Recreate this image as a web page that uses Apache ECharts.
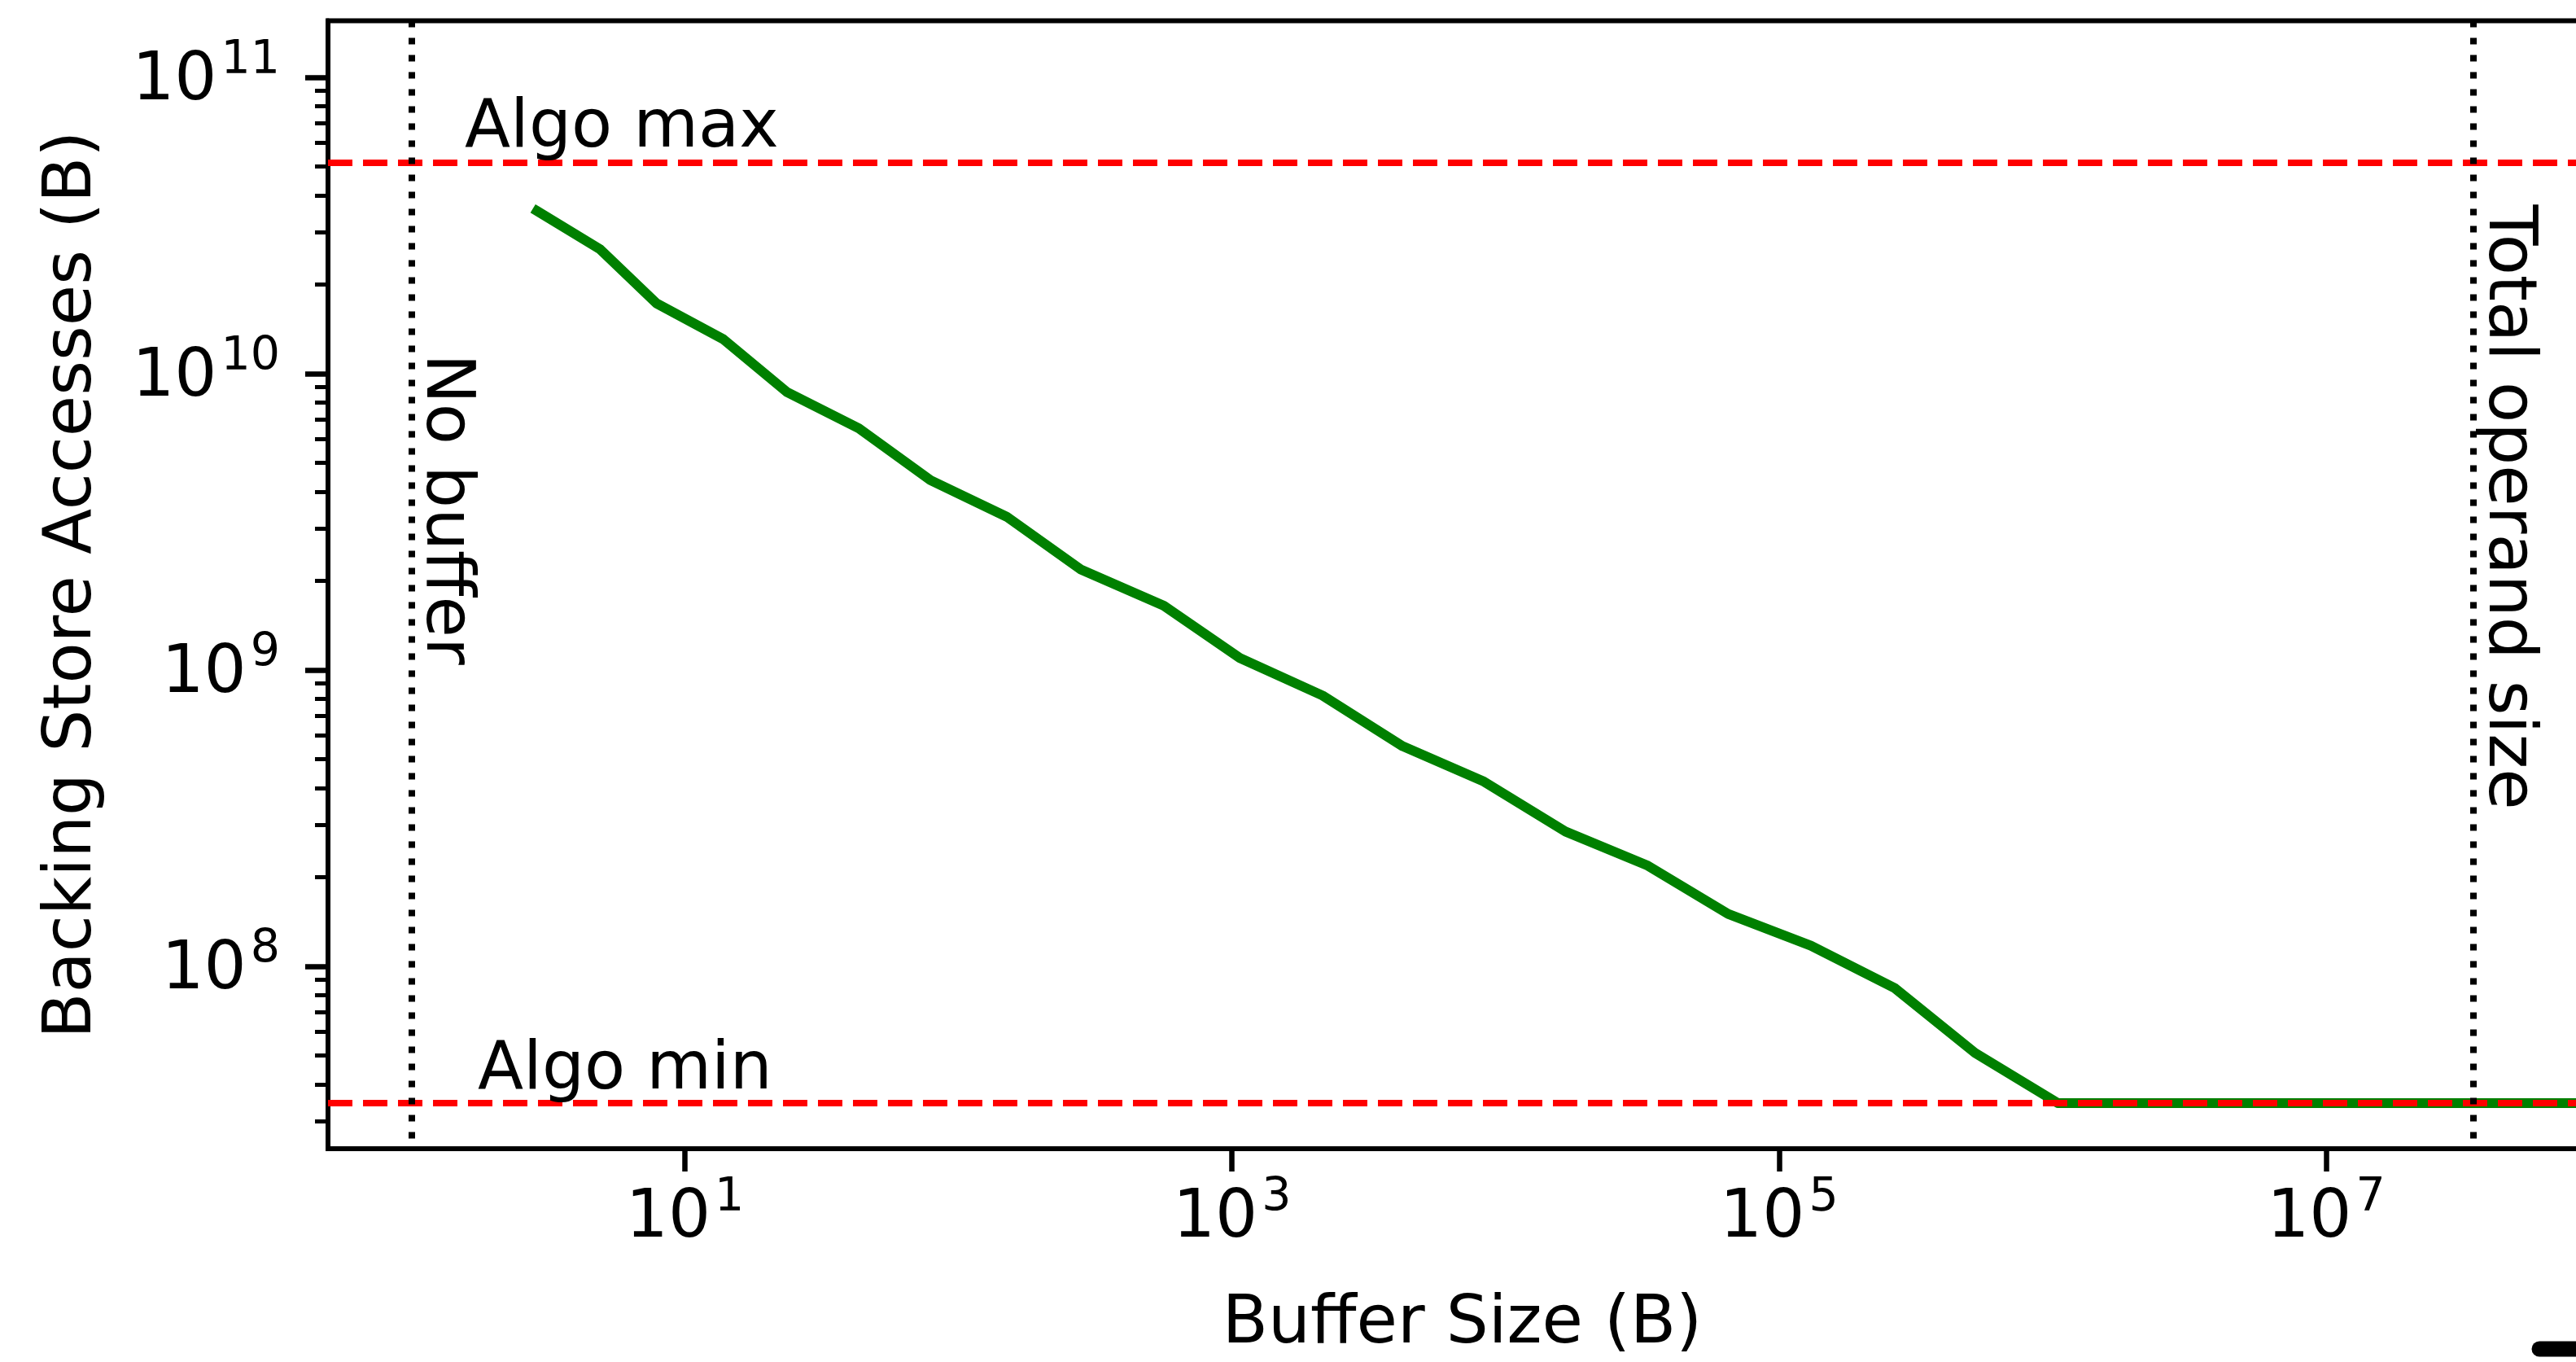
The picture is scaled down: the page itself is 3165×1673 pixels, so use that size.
<!DOCTYPE html>
<html><head><meta charset="utf-8">
<script src="https://cdn.jsdelivr.net/npm/echarts@6/dist/echarts.min.js"></script>
<style>html,body{margin:0;padding:0;background:#fff;overflow:hidden}#c{width:3165px;height:1673px}</style>
</head><body><div id="c"></div>
<script>
// ---- data ----
const bufferSizes = [2.88, 4.89, 7.87, 13.8, 23.6, 43.2, 79.0, 150, 281, 563, 1068, 2143, 4204, 8337,
  16550, 32830, 65130, 130700, 265300, 520800, 1044000, 2097000, 4194000, 8389000, 16780000,
  33550000, 67110000, 134200000];
const backingAccesses = [3.54e10, 2.63e10, 1.727e10, 1.307e10, 8.66e9, 6.54e9, 4.37e9, 3.29e9, 2.18e9,
  1.648e9, 1.098e9, 8.20e8, 5.53e8, 4.20e8, 2.85e8, 2.195e8, 1.502e8, 1.174e8, 8.43e7, 5.10e7,
  3.456e7, 3.456e7, 3.456e7, 3.456e7, 3.456e7, 3.456e7, 3.456e7, 3.456e7];
const algoMax = 5.17e10;
const algoMin = 3.456e7;
const noBuffer = 1;
const totalOperandSize = 3.46e7;
const xRange = [0.4954, 9.726e7];
const yRange = [2.424e7, 1.552e11];
const xTickExponents = [1, 3, 5, 7];
const yTickExponents = [8, 9, 10, 11];
const yMinorTicks = [3e7, 4e7, 5e7, 6e7, 7e7, 8e7, 9e7,
  2e8, 3e8, 4e8, 5e8, 6e8, 7e8, 8e8, 9e8,
  2e9, 3e9, 4e9, 5e9, 6e9, 7e9, 8e9, 9e9,
  2e10, 3e10, 4e10, 5e10, 6e10, 7e10, 8e10, 9e10];
const labels = {xName: 'Buffer Size (B)', yName: 'Backing Store Accesses (B)',
  algoMax: 'Algo max', algoMin: 'Algo min', noBuffer: 'No buffer', total: 'Total operand size'};

// ---- styling ----
const FONT = 'DejaVu Sans';
const FS = 82;
const rich = {
  b: {fontSize: FS, lineHeight: FS, fontFamily: FONT, color: '#000', padding: [11, 0, 0, 0]},
  s: {fontSize: 57, lineHeight: 57, fontFamily: FONT, color: '#000', padding: [0, 0, 40, 5]}
};
const supLabel = v => '{b|10}{s|' + v + '}';
const textStyle = {fontSize: FS, fontFamily: FONT, color: '#000'};
const lg = Math.log10;

const chart = echarts.init(document.getElementById('c'), null, {renderer: 'canvas'});
const redLine = {color: '#ff0000', width: 8, type: [30, 13]};
const dotLine = {color: '#000', width: 8, type: [8, 13]};
const mlLabel = (text, dist) => Object.assign({show: true, position: 'insideStartTop', formatter: text, distance: dist}, textStyle);

chart.setOption({
  animation: false,
  textStyle: {fontFamily: FONT},
  grid: {left: 403, top: 25.5, bottom: 262, right: -25, show: true, borderColor: '#000', borderWidth: 6,
    containLabel: false, outerBoundsMode: 'none'},
  xAxis: [
    {type: 'log', logBase: 10, min: xRange[0], max: xRange[1], show: false, splitLine: {show: false}},
    {type: 'value', position: 'bottom', min: lg(xRange[0]), max: lg(xRange[1]),
      axisLine: {show: true, onZero: false, lineStyle: {color: '#000', width: 6}},
      axisTick: {show: true, inside: false, length: 28, customValues: xTickExponents, lineStyle: {color: '#000', width: 6.5}},
      axisLabel: {show: true, margin: 40, customValues: xTickExponents, formatter: supLabel, rich: rich},
      splitLine: {show: false},
      name: labels.xName, nameLocation: 'middle', nameGap: 176, nameMoveOverlap: false, nameTextStyle: textStyle}
  ],
  yAxis: [
    {type: 'log', logBase: 10, min: yRange[0], max: yRange[1], show: false, splitLine: {show: false}},
    {type: 'value', position: 'left', min: lg(yRange[0]), max: lg(yRange[1]),
      axisLine: {show: true, onZero: false, lineStyle: {color: '#000', width: 6}},
      axisTick: {show: true, inside: false, length: 28, customValues: yTickExponents, lineStyle: {color: '#000', width: 6.5}},
      axisLabel: {show: true, margin: 59, customValues: yTickExponents, formatter: supLabel, rich: rich, align: 'right'},
      splitLine: {show: false},
      name: labels.yName, nameLocation: 'middle', nameGap: 272, nameMoveOverlap: false, nameTextStyle: textStyle},
    {type: 'value', position: 'left', min: lg(yRange[0]), max: lg(yRange[1]),
      axisLine: {show: false, onZero: false},
      axisTick: {show: true, inside: false, length: 16, customValues: yMinorTicks.map(lg), lineStyle: {color: '#000', width: 5}},
      axisLabel: {show: false}, splitLine: {show: false}}
  ],
  series: [{
    type: 'line', xAxisIndex: 0, yAxisIndex: 0,
    data: bufferSizes.map((x, i) => [x, backingAccesses[i]]),
    symbol: 'none', showSymbol: false, clip: true, z: 3,
    lineStyle: {color: '#008000', width: 12, cap: 'square', join: 'round'},
    emphasis: {disabled: true},
    markLine: {
      silent: true, symbol: ['none', 'none'], animation: false, z: 5,
      emphasis: {disabled: true},
      data: [
        {yAxis: algoMax, lineStyle: redLine, label: mlLabel(labels.algoMax, [168, 0])},
        {yAxis: algoMin, lineStyle: redLine, label: mlLabel(labels.algoMin, [184, -2])},
        [{coord: [noBuffer, yRange[1]], lineStyle: dotLine, label: mlLabel(labels.noBuffer, [409, 0])},
         {coord: [noBuffer, yRange[0]]}],
        [{coord: [totalOperandSize, yRange[1]], lineStyle: dotLine, label: mlLabel(labels.total, [226, 0])},
         {coord: [totalOperandSize, yRange[0]]}]
      ]
    }
  }],
  graphic: [{type: 'line', shape: {x1: 3120, y1: 1657, x2: 3220, y2: 1657}, style: {stroke: '#000', lineWidth: 19, lineCap: 'round'}}]
});
</script></body></html>
